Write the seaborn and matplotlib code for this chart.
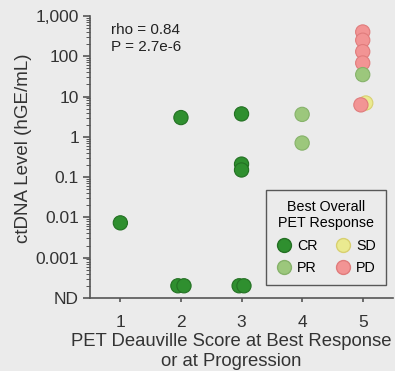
import matplotlib
matplotlib.use("Agg")
import matplotlib.pyplot as plt
import matplotlib.ticker as mticker
from matplotlib.lines import Line2D
import seaborn as sns
import pandas as pd
import numpy as np

# ---- data ----
score    = [1,      2,   2,    2,    3,   3,    3,    3,    3,    4,   4,   5,   5,   5,   5,   5,  5,   5]
jitter   = [0,      0,  -0.05, 0.05, 0,   0,    0,   -0.04, 0.04, 0,   0,   0,   0,   0,   0,   0,  0.05, -0.03]
level    = [0.0073, 3.0, None, None, 3.7, 0.21, 0.15, None, None, 3.6, 0.7, 400, 250, 130, 68, 35, 6.9, 6.2]
response = ["CR",  "CR", "CR", "CR", "CR", "CR", "CR", "CR", "CR", "PR", "PR", "PD", "PD", "PD", "PD", "PR", "SD", "PD"]

resp_order = ["CR", "PR", "SD", "PD"]
resp_colors = {"CR": "#2f8f2f", "PR": "#9cc77c", "SD": "#eaea90", "PD": "#f29494"}
edge_colors = {"CR": "#237023", "PR": "#86b26a", "SD": "#d8d070", "PD": "#e07c7c"}

ytick_vals = [1e-4, 1e-3, 1e-2, 1e-1, 1, 10, 100, 1000]
ytick_labels = ["ND", "0.001", "0.01", "0.1", "1", "10", "100", "1,000"]
xtick_vals = [1, 2, 3, 4, 5]

ND_PLOT = 2e-4

df = pd.DataFrame({
    "x": [s + j for s, j in zip(score, jitter)],
    "y": [ND_PLOT if v is None else v for v in level],
    "resp": response,
})

BG = "#ebebeb"
plt.rcParams["font.family"] = ["Liberation Sans", "DejaVu Sans"]
fig = plt.figure(figsize=(3.95, 3.71), dpi=100, facecolor=BG)
ax = fig.add_axes([0.228, 0.197, 0.767, 0.76])
ax.set_facecolor(BG)

sns.scatterplot(data=df, x="x", y="y", hue="resp", hue_order=resp_order,
                palette=resp_colors, s=105, linewidth=0.8,
                edgecolor=[edge_colors[r] for r in df["resp"]],
                legend=False, ax=ax, zorder=3)

ax.set_yscale("log")
ax.set_ylim(1e-4, 1000)
ax.set_xlim(0.5, 5.5)
ax.set_yticks(ytick_vals)
ax.set_yticklabels(ytick_labels)
ax.yaxis.set_minor_locator(mticker.LogLocator(base=10, subs=np.arange(2, 10), numticks=20))
ax.yaxis.set_minor_formatter(mticker.NullFormatter())
ax.set_xticks(xtick_vals)
ax.set_xticklabels([str(v) for v in xtick_vals])

for side in ["top", "right"]:
    ax.spines[side].set_visible(False)
for side in ["left", "bottom"]:
    ax.spines[side].set_color("#555555")
    ax.spines[side].set_linewidth(1.2)

ax.tick_params(axis="y", which="major", length=5, width=1.2, color="#555555",
               labelsize=12.5, labelcolor="#333333", pad=3)
ax.tick_params(axis="y", which="minor", length=3, width=0.7, color="#555555")
ax.tick_params(axis="x", which="major", length=3, width=1.2, color="#555555",
               labelsize=12.5, labelcolor="#333333", pad=9)

ax.set_xlabel("PET Deauville Score at Best Response\nor at Progression",
              fontsize=13.3, color="#333333", linespacing=1.3)
ax.xaxis.set_label_coords(0.467, -0.123, transform=ax.transAxes)
ax.xaxis.label.set_va("top")
ax.set_ylabel("ctDNA Level (hGE/mL)", fontsize=13.5, color="#333333")
ax.yaxis.set_label_coords(-0.19, 0.53)

ax.text(0.07, 0.975, "rho = 0.84\nP = 2.7e-6", transform=ax.transAxes,
        fontsize=11, color="#222222", va="top", ha="left", linespacing=1.3)

handles = [Line2D([0], [0], marker="o", linestyle="", markersize=10,
                  markerfacecolor=resp_colors[r], markeredgecolor=edge_colors[r],
                  label=r) for r in resp_order]
leg = ax.legend(handles=handles, ncol=2, title="Best Overall\nPET Response",
                loc="lower right", bbox_to_anchor=(1.0, 0.02),
                fontsize=10.3, title_fontsize=10.3, frameon=True, fancybox=False,
                handletextpad=0.3, columnspacing=1.2, borderpad=0.7,
                labelspacing=0.6, handlelength=1.2)
leg.get_frame().set_edgecolor("#333333")
leg.get_frame().set_linewidth(1.0)
leg.get_frame().set_facecolor(BG)
leg.get_title().set_multialignment("center")

fig.text(0.58, 1 - 4 / 371, "Deauville Score", ha="center", va="bottom",
         fontsize=13, weight="bold", color="#333333")

fig.savefig("out.png", dpi=100, facecolor=BG)
